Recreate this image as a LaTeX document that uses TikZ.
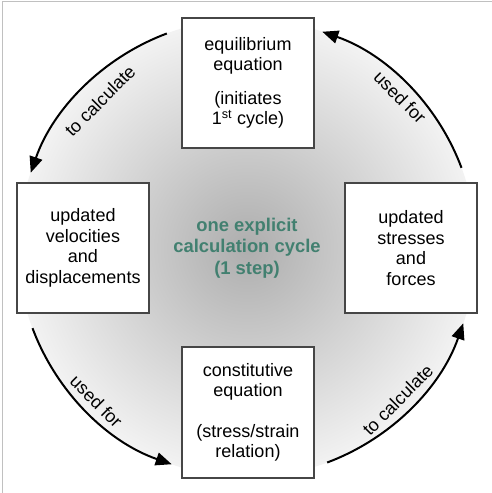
\documentclass[tikz,border=0pt]{standalone}
\usepackage{fontspec}
\setmainfont{Liberation Sans}
\usetikzlibrary{arrows.meta,calc}
\definecolor{tealtxt}{RGB}{66,128,112}
\definecolor{boxline}{RGB}{70,70,70}
\definecolor{framegray}{RGB}{192,192,192}
\begin{document}
\begin{tikzpicture}[x=1pt,y=1pt,
  box/.style={draw=boxline,line width=1.1pt,fill=white,minimum width=132pt,minimum height=130pt,inner sep=0pt,align=center,font=\fontsize{18}{20.5}\selectfont},
  cyclearrow/.style={line width=2pt,-{Triangle[length=16pt,width=13pt]}},
  arclabel/.style={font=\fontsize{18}{20}\selectfont,inner sep=0pt}]
\useasboundingbox (0,0) rectangle (492,493);
\fill[white] (0,0) rectangle (492,493);
\draw[framegray,line width=0.8pt] (2,0) -- (2,492) -- (492,492);
\coordinate (C) at (247,245);
\shade[inner color=black!32,outer color=black!5] (C) circle[radius=229];
% boxes
\node[box] (top) at (248,410) {equilibrium\\equation\\[13pt](initiates\\1\textsuperscript{st} cycle)};
\node[box] (left) at (83,245) {updated\\velocities\\and\\displacements};
\node[box] (right) at (411,245) {updated\\stresses\\and\\forces};
\node[box,minimum height=131pt] (bottom) at (248,80.5) {constitutive\\equation\\[20pt](stress/strain\\relation)};
\node[font=\bfseries\fontsize{18.4}{21.5}\selectfont,text=tealtxt,align=center] (centre) at (C) {one explicit\\calculation cycle\\(1 step)};
% arcs
\coordinate (a1) at ($(C)+(110.5:229)$);
\coordinate (a2) at ($(C)+(200.5:229)$);
\coordinate (a3) at ($(C)+(290.5:229)$);
\coordinate (a4) at ($(C)+(20.5:229)$);
\draw[cyclearrow] (a1) arc[start angle=110.5,end angle=160.8,radius=229];
\draw[cyclearrow] (a2) arc[start angle=200.5,end angle=250.8,radius=229];
\draw[cyclearrow] (a3) arc[start angle=290.5,end angle=340.8,radius=229];
\draw[cyclearrow] (a4) arc[start angle=20.5,end angle=70.8,radius=229];
% labels
\node[arclabel,rotate=45] (l1) at ($(C)+(135:208)$) {to calculate};
\node[arclabel,rotate=-45] (l2) at ($(C)+(225.5:215)$) {used for};
\node[arclabel,rotate=45] (l3) at ($(C)+(314.8:214)$) {to calculate};
\node[arclabel,rotate=-45] (l4) at ($(C)+(44.6:215)$) {used for};
\end{tikzpicture}
\end{document}
